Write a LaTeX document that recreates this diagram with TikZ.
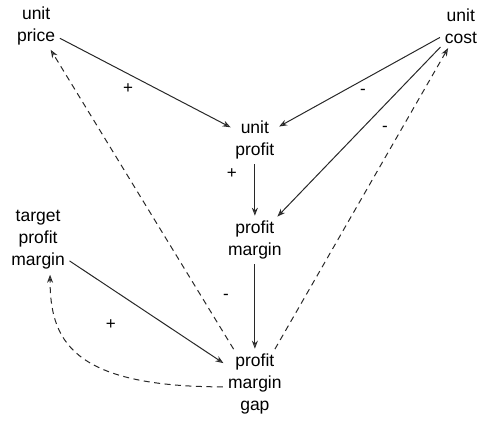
\documentclass[tikz,border=0pt]{standalone}
\usepackage{fontspec}
\setmainfont{Liberation Sans}
\usepackage{tikz}
\usetikzlibrary{arrows.meta,positioning}
\definecolor{cldline}{RGB}{40,40,40}
\tikzstyle{var} = [align=center, inner sep=2pt, font=\fontsize{17.5}{22}\selectfont]
\tikzstyle{sign} = [inner sep=1pt, font=\fontsize{17}{18}\selectfont]
\tikzstyle{link} = [line width=1pt, color=cldline, shorten >=3pt, shorten <=3pt, -{Stealth[open, length=8pt, width=6pt]}]
\tikzstyle{delay} = [link, dash pattern=on 6pt off 4.5pt]

\begin{document}
\begin{tikzpicture}
\useasboundingbox (0,0) rectangle (16.98,-15.01);

% Main chain
\node (uprofit) [var] at (8.96,-4.92) {unit\\profit};
\node (pmargin) [var, below of=uprofit, node distance=3.52cm] {profit\\margin};
\node (gap) [var, below of=pmargin, node distance=5.06cm] {profit\\margin\\gap};

% Inputs
\node (uprice) [var] at (1.27,-0.91) {unit\\price};
\node (ucost) [var] at (16.20,-0.91) {unit\\cost};
\node (target) [var, left of=pmargin, node distance=7.62cm] {target\\profit\\margin};

% Polarities
\node (s1) [sign] at (4.50,-3.13) {+};
\node (s2) [sign] at (12.76,-3.23) {-};
\node (s3) [sign] at (8.15,-6.12) {+};
\node (s4) [sign] at (13.53,-4.53) {-};
\node (s5) [sign] at (7.94,-10.44) {-};
\node (s6) [sign] at (3.90,-11.42) {+};

% Links
\draw[link] (uprice) -- (uprofit);
\draw[link] (ucost) -- (uprofit);
\draw[link] (uprofit) -- (pmargin);
\draw[link] (ucost) -- (pmargin);
\draw[link] (pmargin) -- (gap);
\draw[link] (target) -- (gap);

% Feedback from the gap
\draw[delay] (gap) -- (uprice);
\draw[delay] (gap) -- (ucost);
\draw[delay] ([yshift=-0.1cm]gap.west) .. controls +(-5.48,0) and +(0,-2.36) .. ([xshift=0.42cm]target.south);
\end{tikzpicture}
\end{document}
